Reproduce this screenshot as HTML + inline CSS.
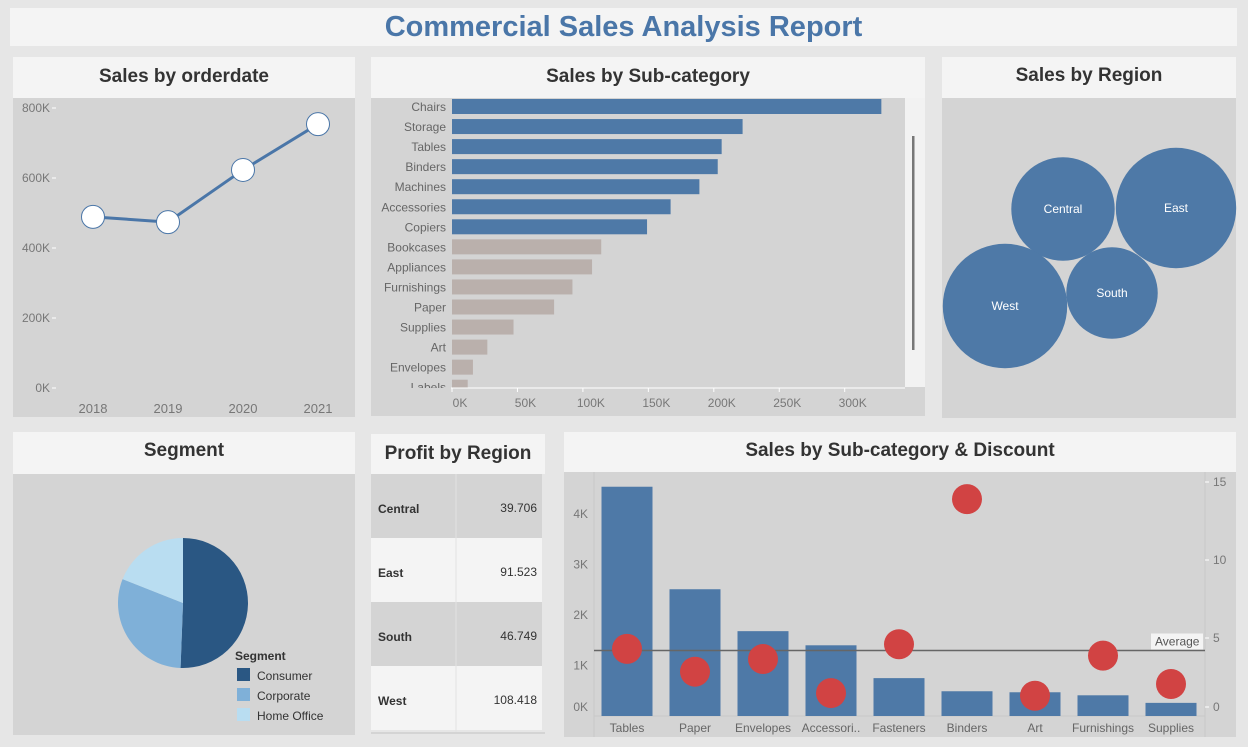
<!DOCTYPE html>
<html><head><meta charset="utf-8"><style>
body{margin:0;width:1248px;height:747px;background:#e6e6e6;font-family:"Liberation Sans",sans-serif;position:relative;overflow:hidden}
.p{position:absolute}
.hdr{position:absolute;background:#f4f4f4;text-align:center;font-weight:bold;color:#333;font-size:19px}
svg text{font-family:"Liberation Sans",sans-serif}
</style></head><body>
<div class="hdr" style="left:10px;top:8px;width:1227px;height:38px;line-height:38px;font-size:29px;color:#4a76a8">Commercial Sales Analysis Report</div>

<div class="hdr" style="left:13px;top:57px;width:342px;height:41px;line-height:39px">Sales by orderdate</div>
<div class="hdr" style="left:371px;top:57px;width:554px;height:41px;line-height:39px">Sales by Sub-category</div>
<div class="hdr" style="left:942px;top:57px;width:294px;height:41px;line-height:37px">Sales by Region</div>
<div class="hdr" style="left:13px;top:432px;width:342px;height:42px;line-height:38px">Segment</div>
<div class="hdr" style="left:371px;top:434px;width:174px;height:40px;line-height:40px">Profit by Region</div>
<div class="hdr" style="left:564px;top:432px;width:672px;height:40px;line-height:38px">Sales by Sub-category &amp; Discount</div>

<svg class="p" style="left:0;top:0" width="1248" height="747">
<g id="lineG"></g><g id="barG"></g><g id="bubG"></g><g id="pieG"></g><g id="tblG"></g><g id="comboG"></g>
</svg>
<script>
const NS='http://www.w3.org/2000/svg';
function mk(p,t,a,txt){const e=document.createElementNS(NS,t);for(const k in a)e.setAttribute(k,a[k]);if(txt!==undefined)e.textContent=txt;p.appendChild(e);return e;}

// ---- line chart data
const years=['2018','2019','2020','2021'];
const yearSales=[489,474,623,754];
const lineTicks=[0,200,400,600,800];
// ---- bar chart data
const subCats=['Chairs','Storage','Tables','Binders','Machines','Accessories','Copiers','Bookcases','Appliances','Furnishings','Paper','Supplies','Art','Envelopes','Labels'];
const subSales=[328,222,206,203,189,167,149,114,107,92,78,47,27,16,12];
const subTop=[1,1,1,1,1,1,1,0,0,0,0,0,0,0,0];
const barTicks=[0,50,100,150,200,250,300];
// ---- bubble data
const regions=['Central','East','South','West'];
const regionSales=[501,679,392,725];
// ---- pie data
const segments=['Consumer','Corporate','Home Office'];
const segShares=[50.6,30.4,19.0];
// ---- profit table
const profitRegions=['Central','East','South','West'];
const profitVals=['39.706','91.523','46.749','108.418'];
// ---- combo data
const comboCats=['Tables','Paper','Envelopes','Accessori..','Fasteners','Binders','Art','Furnishings','Supplies'];
const comboSales=[4.54,2.51,1.68,1.40,0.75,0.49,0.47,0.41,0.26];
const comboDisc=[4.3,2.84,3.65,1.47,4.6,13.9,1.3,3.87,2.05];
const leftTicks=[0,1,2,3,4];
const rightTicks=[0,5,10,15];
const avgDisc=4.2;

// Line chart
(function(){
const g=document.getElementById('lineG');
const bg=mk(g,'rect',{x:13,y:98,width:342,height:319,fill:'#d4d4d4'});

const y=v=>388-v*0.35, x=i=>93+i*75;
lineTicks.forEach(t=>{const l=mk(g,'text',{x:50,y:y(t)+4,'text-anchor':'end','font-size':12,fill:'#777'},t+'K');

mk(g,'line',{x1:52,x2:56,y1:y(t),y2:y(t),stroke:'#fff'});});
years.forEach((yr,i)=>{const l=mk(g,'text',{x:x(i),y:413,'text-anchor':'middle','font-size':13,fill:'#777'},yr);
});
const pl=mk(g,'polyline',{points:yearSales.map((v,i)=>x(i)+','+y(v)).join(' '),fill:'none',stroke:'#4a76a8','stroke-width':3});

yearSales.forEach((v,i)=>{const c=mk(g,'circle',{cx:x(i),cy:y(v),r:11.5,fill:'#fff',stroke:'#4a76a8','stroke-width':1});
});
})();

// Bar chart
(function(){
const g=document.getElementById('barG');
const bg=mk(g,'rect',{x:371,y:98,width:554,height:318,fill:'#d4d4d4'});

mk(g,'rect',{x:905,y:98,width:20,height:289,fill:'#f2f2f2'});
mk(g,'rect',{x:912,y:136,width:2.5,height:214,fill:'#777'});
const x=v=>452+v*1.309, y=i=>99+i*20.05;
const clip=mk(g,'clipPath',{id:'bc'});mk(clip,'rect',{x:371,y:98,width:540,height:290});
const inner=mk(g,'g',{'clip-path':'url(#bc)'});
subCats.forEach((c,i)=>{
const r=mk(inner,'rect',{x:452,y:y(i),width:x(subSales[i])-452,height:15,fill:subTop[i]?'#4e79a7':'#bab0ac'});

const t=mk(inner,'text',{x:446,y:y(i)+12,'text-anchor':'end','font-size':12,fill:'#666'},c);
});
mk(g,'line',{x1:451,x2:905,y1:388,y2:388,stroke:'#fff'});
barTicks.forEach(t=>{mk(g,'line',{x1:x(t),x2:x(t),y1:388,y2:392,stroke:'#fff'});
const l=mk(g,'text',{x:x(t)+8,y:407,'text-anchor':'middle','font-size':12,fill:'#777'},t+'K');
});
})();

// Bubbles
(function(){
const g=document.getElementById('bubG');
const bg=mk(g,'rect',{x:942,y:98,width:294,height:320,fill:'#d4d4d4'});

const pos=[[1063,209],[1176,208],[1112,293],[1005,306]];
regions.forEach((r,i)=>{const rad=Math.sqrt(regionSales[i])*2.31;
const c=mk(g,'circle',{cx:pos[i][0],cy:pos[i][1],r:rad,fill:'#4e79a7'});

const t=mk(g,'text',{x:pos[i][0],y:pos[i][1]+4,'text-anchor':'middle','font-size':12,fill:'#fff'},r);
});
})();

// Pie
(function(){
const g=document.getElementById('pieG');
const bg=mk(g,'rect',{x:13,y:474,width:342,height:261,fill:'#d4d4d4'});

const cols=['#2a5783','#7fb0d8','#b9ddf1'];
const cx=183,cy=603,R=65;let a=0;
segments.forEach((s,i)=>{const a2=a+segShares[i]/100*2*Math.PI;
const p1=[cx+R*Math.sin(a),cy-R*Math.cos(a)],p2=[cx+R*Math.sin(a2),cy-R*Math.cos(a2)];
const large=(a2-a)>Math.PI?1:0;
const p=mk(g,'path',{d:`M${cx},${cy}L${p1[0]},${p1[1]}A${R},${R} 0 ${large} 1 ${p2[0]},${p2[1]}Z`,fill:cols[i]});

a=a2;
mk(g,'rect',{x:237,y:668+i*20,width:13,height:13,fill:cols[i]});
const t=mk(g,'text',{x:257,y:680+i*20,'font-size':12,fill:'#333'},s);
});
const lt=mk(g,'text',{x:235,y:660,'font-size':12,'font-weight':'bold',fill:'#333'},'Segment');

})();

// Table
(function(){
const g=document.getElementById('tblG');
profitRegions.forEach((r,i)=>{const y=474+i*64;
const row=mk(g,'rect',{x:371,y:y,width:171,height:64,fill:i%2?'#f4f4f4':'#d4d4d4'});

const a=mk(g,'text',{x:378,y:y+39,'font-size':12,'font-weight':'bold',fill:'#333'},r);

const b=mk(g,'text',{x:537,y:y+38,'text-anchor':'end','font-size':12,fill:'#333'},profitVals[i]);
});
mk(g,'rect',{x:371,y:732,width:174,height:2,fill:'#d4d4d4'});
mk(g,'line',{x1:456,x2:456,y1:474,y2:732,stroke:'#e2e2e2'});
})();

// Combo
(function(){
const g=document.getElementById('comboG');
const bg=mk(g,'rect',{x:564,y:472,width:672,height:265,fill:'#d4d4d4'});

const base=716, yl=v=>base-v*50.5, yr=v=>base-v*15.6, x=i=>627+i*68;
mk(g,'line',{x1:594,x2:594,y1:472,y2:737,stroke:'#c8c8c8'});
mk(g,'line',{x1:1205,x2:1205,y1:472,y2:737,stroke:'#c8c8c8'});
mk(g,'line',{x1:594,x2:1205,y1:716,y2:716,stroke:'#c8c8c8'});
leftTicks.forEach(t=>{const yy=Math.min(yl(t),707);
const l=mk(g,'text',{x:588,y:yy+4,'text-anchor':'end','font-size':12,fill:'#777'},t+'K');
});
rightTicks.forEach(t=>{const yy=Math.min(yr(t),707);
mk(g,'line',{x1:1205,x2:1209,y1:yy,y2:yy,stroke:'#fff'});
const l=mk(g,'text',{x:1213,y:yy+4,'font-size':12,fill:'#777'},String(t));
});
comboCats.forEach((c,i)=>{
const b=mk(g,'rect',{x:x(i)-25.5,y:yl(comboSales[i]),width:51,height:base-yl(comboSales[i]),fill:'#4e79a7'});

const t=mk(g,'text',{x:x(i),y:732,'text-anchor':'middle','font-size':12,fill:'#666'},c);
});
const av=mk(g,'line',{x1:594,x2:1205,y1:yr(avgDisc),y2:yr(avgDisc),stroke:'#666','stroke-width':1.5});

mk(g,'rect',{x:1151,y:yr(avgDisc)-17,width:52,height:16,fill:'#f4f4f4'});
const at=mk(g,'text',{x:1155,y:yr(avgDisc)-5,'font-size':12,fill:'#555'},'Average');

comboCats.forEach((c,i)=>{const d=mk(g,'circle',{cx:x(i),cy:yr(comboDisc[i]),r:15,fill:'#d14343'});
});
})();
</script>
</body></html>
